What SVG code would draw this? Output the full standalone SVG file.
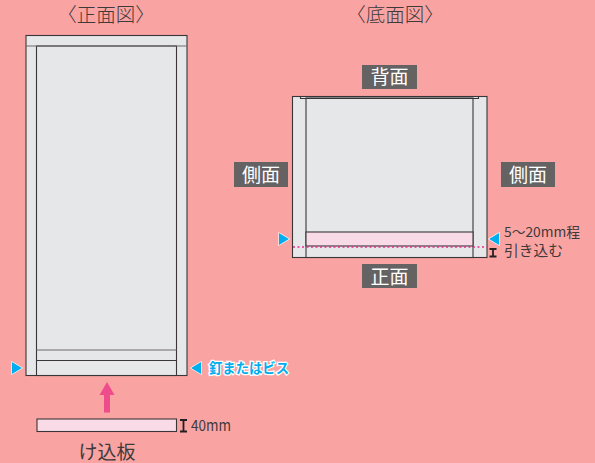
<svg xmlns="http://www.w3.org/2000/svg" width="595" height="463" viewBox="0 0 595 463">
<style>
.b{fill:#e6e7e9;stroke:#3a3536;stroke-width:1.1}
.p{fill:#f9dbe7;stroke:#3a3536;stroke-width:1.1}
.l{stroke:#3a3536;stroke-width:1.1;fill:none}
.g{stroke:#6e6a6b;stroke-width:1.1;fill:none}
.t{font-family:"Noto Sans CJK JP","Liberation Sans",sans-serif;fill:#3e3a3a}
.h{font-size:19.5px;text-anchor:middle;font-weight:300}
.s{font-size:13.5px}
.lab{fill:#656263}
.w{font-family:"Noto Sans CJK JP",sans-serif;font-size:19px;fill:#fff;text-anchor:middle;font-weight:400}
.c{fill:#00aeef;stroke:#fff;stroke-width:1.2;paint-order:stroke}
.i{fill:none;stroke:#231f20;stroke-width:1.8}
</style>
<rect width="595" height="463" fill="#faa3a3"/>
<g id="front-view">
<rect class="b" x="26" y="35.500" width="161" height="340"/>
<rect class="b" x="36.500" y="46" width="140" height="329.500"/>
<path class="g" d="M26 46H187"/>
<path class="g" d="M36.500 350H176.500"/>
<path class="l" d="M36.500 360.500H176.500"/>
</g>
<g id="front-title"><text class="t h" x="106" y="22">〈正面図〉</text></g>
<g id="bottom-view">
<rect class="b" x="292.500" y="96.500" width="194.500" height="161"/>
<rect class="b" x="306" y="98" width="167" height="159.500"/>
<path class="l" d="M300.500 96.500V98.500H478.500V96.500"/>
<rect class="p" x="306" y="232" width="167" height="14"/>
<path d="M293 247H487" fill="none" stroke="#ec2b8c" stroke-width="1.500" stroke-dasharray="2 2.500"/>
</g>
<g id="bottom-title"><text class="t h" x="395" y="22">〈底面図〉</text></g>
<g id="label-back"><rect class="lab" x="362" y="65" width="55" height="24"/><text class="w" x="389.500" y="84">背面</text></g>
<g id="label-front"><rect class="lab" x="362" y="264" width="55" height="24"/><text class="w" x="389.500" y="283.500">正面</text></g>
<g id="label-left"><rect class="lab" x="234" y="162" width="54" height="25"/><text class="w" x="261" y="181.500">側面</text></g>
<g id="label-right"><rect class="lab" x="501" y="162" width="54" height="25"/><text class="w" x="528" y="181.500">側面</text></g>
<g id="markers">
<path class="c" d="M12 362L22 368L12 374Z"/>
<path class="c" d="M201 362L191 368L201 374Z"/>
<path class="c" d="M279 233L289 239L279 245Z"/>
<path class="c" d="M499 233L489 239L499 245Z"/>
</g>
<g id="screw-label"><text x="209" y="373" font-family="Noto Sans CJK JP,sans-serif" font-size="14" font-weight="700" fill="#00aeef" stroke="#fff" stroke-width="2.500" paint-order="stroke" textLength="80" lengthAdjust="spacingAndGlyphs">釘またはビス</text></g>
<g id="insert-board">
<rect class="p" x="37" y="419" width="139.500" height="12.500"/>
<path d="M107 382L114.500 395H110V412.500H104V395H99.500Z" fill="#ef4c8b"/>
<path class="i" d="M180 420H187M183.500 420V431.500M180 431.500H187"/>
<text class="t" x="191" y="431" font-size="15" textLength="40" lengthAdjust="spacingAndGlyphs" font-family="Liberation Sans">40mm</text>
<text class="t" x="107" y="458.500" font-size="19" text-anchor="middle">け込板</text>
</g>
<g id="recess-label">
<path class="i" d="M489.500 249H496.500M493 249V256.500M489.500 256.500H496.500"/>
<text class="t s" x="504" y="237" textLength="76" lengthAdjust="spacingAndGlyphs">5～20mm程</text>
<text class="t" x="504" y="256" font-size="14.500" textLength="59" lengthAdjust="spacingAndGlyphs">引き込む</text>
</g>
</svg>
